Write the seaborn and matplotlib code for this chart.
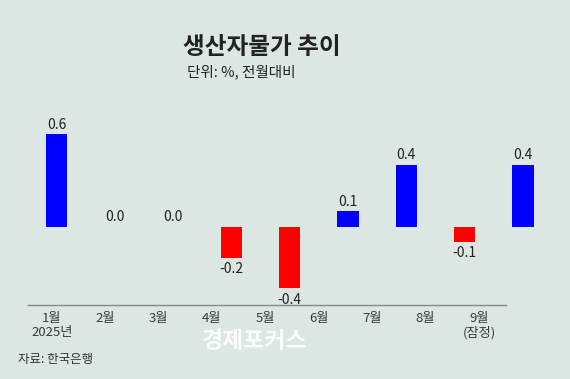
import numpy as np
import matplotlib
matplotlib.use("Agg")
import matplotlib.pyplot as plt
import seaborn as sns
import pandas as pd

# data
months = ["1월", "2월", "3월", "4월", "5월", "6월", "7월", "8월", "9월"]
tick_labels = ["1월\n2025년", "2월", "3월", "4월", "5월", "6월", "7월", "8월", "9월\n(잠정)"]
values = [0.6, 0.0, 0.0, -0.2, -0.4, 0.1, 0.4, -0.1, 0.4]

bg = "#dce6e3"
sns.set_theme(style="white")
plt.rcParams["font.family"] = ["Noto Sans CJK KR", "DejaVu Sans"]

df = pd.DataFrame({"month": months, "value": values})
df["sign"] = np.where(df["value"] < 0, "neg", "pos")

fig = plt.figure(figsize=(5.7, 3.79), dpi=100, facecolor=bg)
ax = fig.add_axes([0, 1 - 305 / 379, 1, 205 / 379])
ax.set_facecolor(bg)

sns.barplot(data=df, x="month", y="value", hue="sign", order=months,
            palette={"pos": "#0000ff", "neg": "#ff0000"}, dodge=False,
            width=0.37, legend=False, ax=ax, linewidth=0, saturation=1)

# pixel layout -> data units (bar spacing 58.3 px, first bar at 56.5 px)
step, x0 = 58.3, 56.5
ax.set_xlim(-x0 / step, (570 - x0) / step)
ax.set_ylim(-0.508, 0.823)

for i, v in enumerate(values):
    if v < 0:
        ax.annotate(f"{v:.1f}", (i, v), xytext=(0, -3), textcoords="offset points",
                    ha="center", va="top", fontsize=10, color="#222222")
    else:
        ax.annotate(f"{v:.1f}", (i, v), xytext=(0, 2), textcoords="offset points",
                    ha="center", va="bottom", fontsize=10, color="#222222")

# tick labels sit a bit left of the bars in the original
tick_pos = (51.7 + 53.4 * np.arange(len(months)) - x0) / step
ax.set_xticks(tick_pos)
ax.set_xticklabels(tick_labels, fontsize=9.5, color="#3a3a3a", linespacing=1.15)
ax.tick_params(axis="x", length=0, pad=5)
ax.set_yticks([])
ax.set_xlabel("")
ax.set_ylabel("")

sns.despine(ax=ax, left=True)
ax.spines["bottom"].set_color("#888888")
ax.spines["bottom"].set_linewidth(1)
ax.spines["bottom"].set_bounds((27.7 - x0) / step, (506 - x0) / step)

fig.text(262 / 570, 1 - 47 / 379, "생산자물가 추이", ha="center", va="center",
         fontsize=17, fontweight="bold", color="#222222")
fig.text(187 / 570, 1 - 72 / 379, "단위: %, 전월대비", ha="left", va="center",
         fontsize=10.5, color="#222222")
fig.text(18 / 570, 1 - 359 / 379, "자료: 한국은행", ha="left", va="center",
         fontsize=9, color="#333333")
fig.text(255 / 570, 1 - 342 / 379, "경제포커스", ha="center", va="center",
         fontsize=16.5, fontweight="bold", color="white", alpha=0.9)

fig.savefig("out.png", dpi=100, facecolor=bg)
